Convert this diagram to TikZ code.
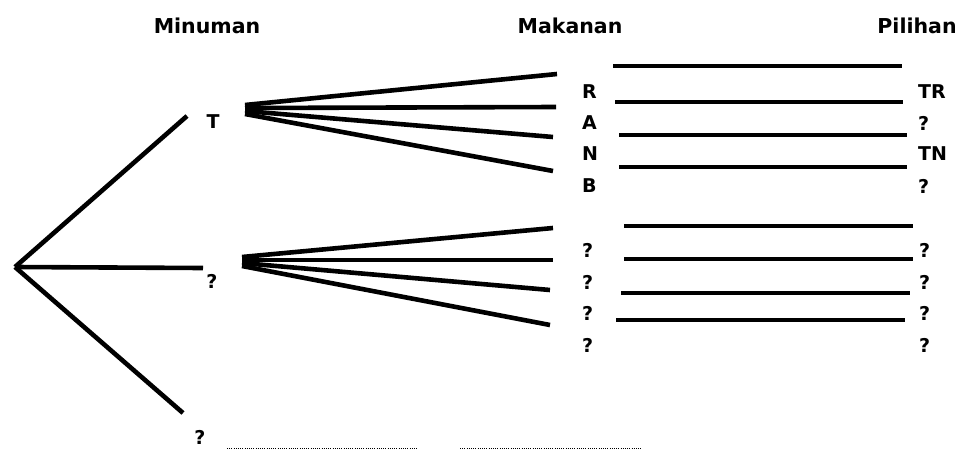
\documentclass[tikz,border=0pt]{standalone}
\usepackage{fontspec}
\setmainfont{DejaVu Sans}
\begin{document}
\begin{tikzpicture}[x=1pt,y=-1pt,
  br/.style={line width=4.6pt},
  hd/.style={font=\bfseries\fontsize{20.5}{20.5}\selectfont, inner sep=0pt, anchor=center},
  lb/.style={font=\bfseries\fontsize{19}{19}\selectfont, inner sep=0pt, anchor=west},
  dl/.style={line width=0.8pt, dash pattern=on 1pt off 1.2pt}]
\useasboundingbox (0,0) rectangle (971,450);
% headers
\node[hd] (h1) at (207,26) {Minuman};
\node[hd] (h2) at (570,26) {Makanan};
\node[hd] (h3) at (917,26) {Pilihan};
% first level
\coordinate (root) at (15,267);
\coordinate (e1) at (187,116);
\coordinate (e2) at (203,268);
\coordinate (e3) at (183,413);
\draw[br] (root) -- (e1);
\draw[br] (root) -- (e2);
\draw[br] (root) -- (e3);
\node[lb, anchor=center] (t) at (213,122) {T};
\node[lb, anchor=center] (q1) at (212,281) {?};
\node[lb, anchor=center] (q2) at (200,437) {?};
% top fan
\coordinate (a1) at (245,105); \coordinate (b1) at (557,74);
\coordinate (a2) at (245,108); \coordinate (b2) at (556,107);
\coordinate (a3) at (245,111); \coordinate (b3) at (553,137);
\coordinate (a4) at (245,114); \coordinate (b4) at (553,171);
\draw[br] (a1) -- (b1); \draw[br] (a2) -- (b2);
\draw[br] (a3) -- (b3); \draw[br] (a4) -- (b4);
% bottom fan
\coordinate (c1) at (242,257); \coordinate (d1) at (553,228);
\coordinate (c2) at (242,260); \coordinate (d2) at (553,260);
\coordinate (c3) at (242,263); \coordinate (d3) at (550,290);
\coordinate (c4) at (242,266); \coordinate (d4) at (550,325);
\draw[br] (c1) -- (d1); \draw[br] (c2) -- (d2);
\draw[br] (c3) -- (d3); \draw[br] (c4) -- (d4);
% top horizontal lines
\coordinate (p1) at (613,66);  \coordinate (r1) at (902,66);
\coordinate (p2) at (615,102); \coordinate (r2) at (903,102);
\coordinate (p3) at (619,135); \coordinate (r3) at (907,135);
\coordinate (p4) at (619,167); \coordinate (r4) at (907,167);
\draw[br] (p1) -- (r1); \draw[br] (p2) -- (r2);
\draw[br] (p3) -- (r3); \draw[br] (p4) -- (r4);
% bottom horizontal lines
\coordinate (s1) at (624,226); \coordinate (u1) at (913,226);
\coordinate (s2) at (624,259); \coordinate (u2) at (913,259);
\coordinate (s3) at (621,293); \coordinate (u3) at (910,293);
\coordinate (s4) at (616,320); \coordinate (u4) at (905,320);
\draw[br] (s1) -- (u1); \draw[br] (s2) -- (u2);
\draw[br] (s3) -- (u3); \draw[br] (s4) -- (u4);
% food labels
\node[lb] (fR) at (582,92) {R};
\node[lb] (fA) at (582,123) {A};
\node[lb] (fN) at (582,154) {N};
\node[lb] (fB) at (582,186) {B};
\node[lb] (g1) at (582,250) {?};
\node[lb] (g2) at (582,282) {?};
\node[lb] (g3) at (582,313) {?};
\node[lb] (g4) at (582,345) {?};
% choice labels
\node[lb] (cTR) at (918,92) {TR};
\node[lb] (cQ1) at (918,123) {?};
\node[lb] (cTN) at (918,154) {TN};
\node[lb] (cQ2) at (918,186) {?};
\node[lb] (k1) at (919,250) {?};
\node[lb] (k2) at (919,282) {?};
\node[lb] (k3) at (919,313) {?};
\node[lb] (k4) at (919,345) {?};
% dotted lines
\coordinate (x1) at (227,448); \coordinate (x2) at (417,448);
\coordinate (y1) at (460,448); \coordinate (y2) at (642,448);
\draw[dl] (x1) -- (x2);
\draw[dl] (y1) -- (y2);
\end{tikzpicture}
\end{document}
